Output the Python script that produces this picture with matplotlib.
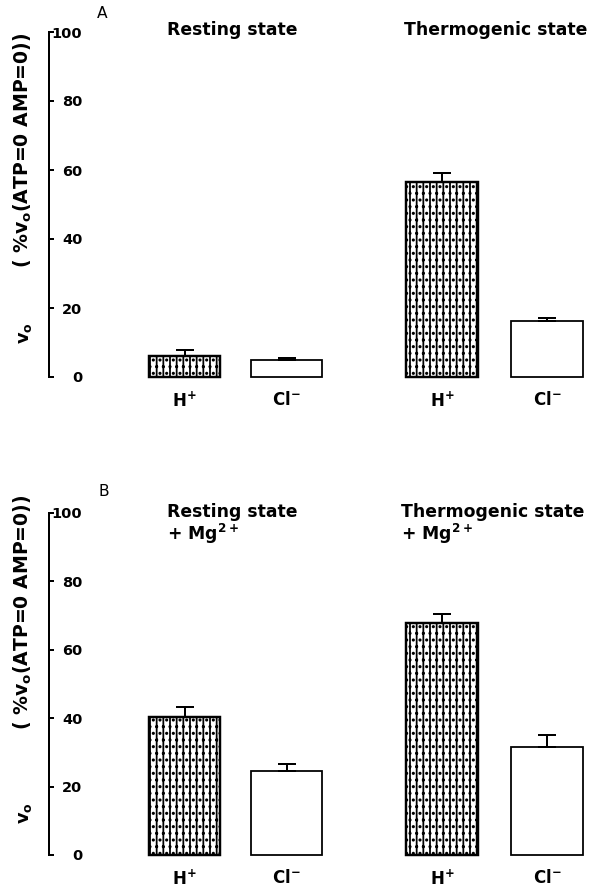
import matplotlib
matplotlib.use("Agg")
import matplotlib.pyplot as plt

# ---- data ----
ions = ["H$^{+}$", "Cl$^{-}$", "H$^{+}$", "Cl$^{-}$"]
hatched = [True, False, True, False]

a_titles = ["Resting state", "Thermogenic state"]
a_values = [6.0, 4.9, 56.5, 16.2]
a_errors = [1.8, 0.6, 2.5, 0.8]

b_titles = ["Resting state\n+ Mg$^{2+}$", "Thermogenic state\n+ Mg$^{2+}$"]
b_values = [40.4, 24.6, 67.9, 31.7]
b_errors = [2.9, 2.0, 2.5, 3.4]

yticks = [0, 20, 40, 60, 80, 100]
ylabel_v = r"$\mathbf{v_o}$"
ylabel_rest = r"( %$\mathbf{v_o}$(ATP=0 AMP=0))"

DPI = 80
W, H = 601, 890

plt.rcParams.update({
    "font.family": ["DejaVu Sans"],
    "font.weight": "bold",
    "mathtext.fontset": "custom",
    "mathtext.rm": "DejaVu Sans:bold",
    "mathtext.bf": "DejaVu Sans:bold",
    "mathtext.it": "DejaVu Sans:bold",
    "hatch.linewidth": 1.6,
    "hatch.color": "black",
})

fig = plt.figure(figsize=(W / DPI, H / DPI), dpi=DPI)
fig.patch.set_facecolor("white")

positions = [0, 1, 2.52, 3.55]
bar_w = 0.70


def panel(ax_rect, values, errors, titles, title_x, title_y, letter,
          letter_xy, v_y, rest_y):
    ax = fig.add_axes(ax_rect)
    ax.set_ylim(0, 100)
    ax.set_xlim(-1.33, 4.08)
    for x, v, e, h in zip(positions, values, errors, hatched):
        ax.bar(x, v, width=bar_w, facecolor="white", edgecolor="black",
               linewidth=2.2 if h else 1.6, hatch="||.." if h else None,
               clip_on=False, zorder=2)
        ax.errorbar(x, v, yerr=[[0], [e]], fmt="none", ecolor="black",
                    elinewidth=1.8, capsize=8, capthick=1.8, zorder=3,
                    clip_on=False)
    for s in ["top", "right", "bottom"]:
        ax.spines[s].set_visible(False)
    ax.spines["left"].set_linewidth(1.8)
    ax.set_yticks(yticks)
    ax.set_yticklabels([str(t) for t in yticks])
    ax.tick_params(axis="y", direction="in", length=4.5, width=1.8,
                   pad=-30, labelsize=13)
    ax.set_xticks(positions)
    ax.set_xticklabels(ions, fontsize=15)
    ax.tick_params(axis="x", length=0, pad=13)
    ax.patch.set_alpha(0)
    # group titles
    for tx, t in zip(title_x, titles):
        fig.text(tx / W, 1 - title_y / H, t, ha="left", va="top",
                 fontsize=15.5, fontweight="bold", linespacing=1.05)
    fig.text(letter_xy[0] / W, 1 - letter_xy[1] / H, letter, fontsize=14,
             fontweight="normal", ha="left", va="top")
    fig.text(25 / W, 1 - v_y / H, ylabel_v, rotation=90, ha="center",
             va="center", fontsize=16)
    fig.text(23 / W, 1 - rest_y / H, ylabel_rest, rotation=90, ha="center",
             va="center", fontsize=17)
    return ax


# Panel A: axis 0 at y=377px, 100 at y=32px, spine at x=49px
panel([49 / W, 1 - 377 / H, (W - 49) / W, 345 / H], a_values, a_errors,
      a_titles, [167, 404], 21, "A", (97, 6), 333, 150)
# Panel B: 0 at y=855px, 100 at y=513px
panel([49 / W, 1 - 855 / H, (W - 49) / W, 342 / H], b_values, b_errors,
      b_titles, [167, 401], 503, "B", (99, 484), 813, 612)

fig.savefig("out.png", dpi=DPI, facecolor="white")
